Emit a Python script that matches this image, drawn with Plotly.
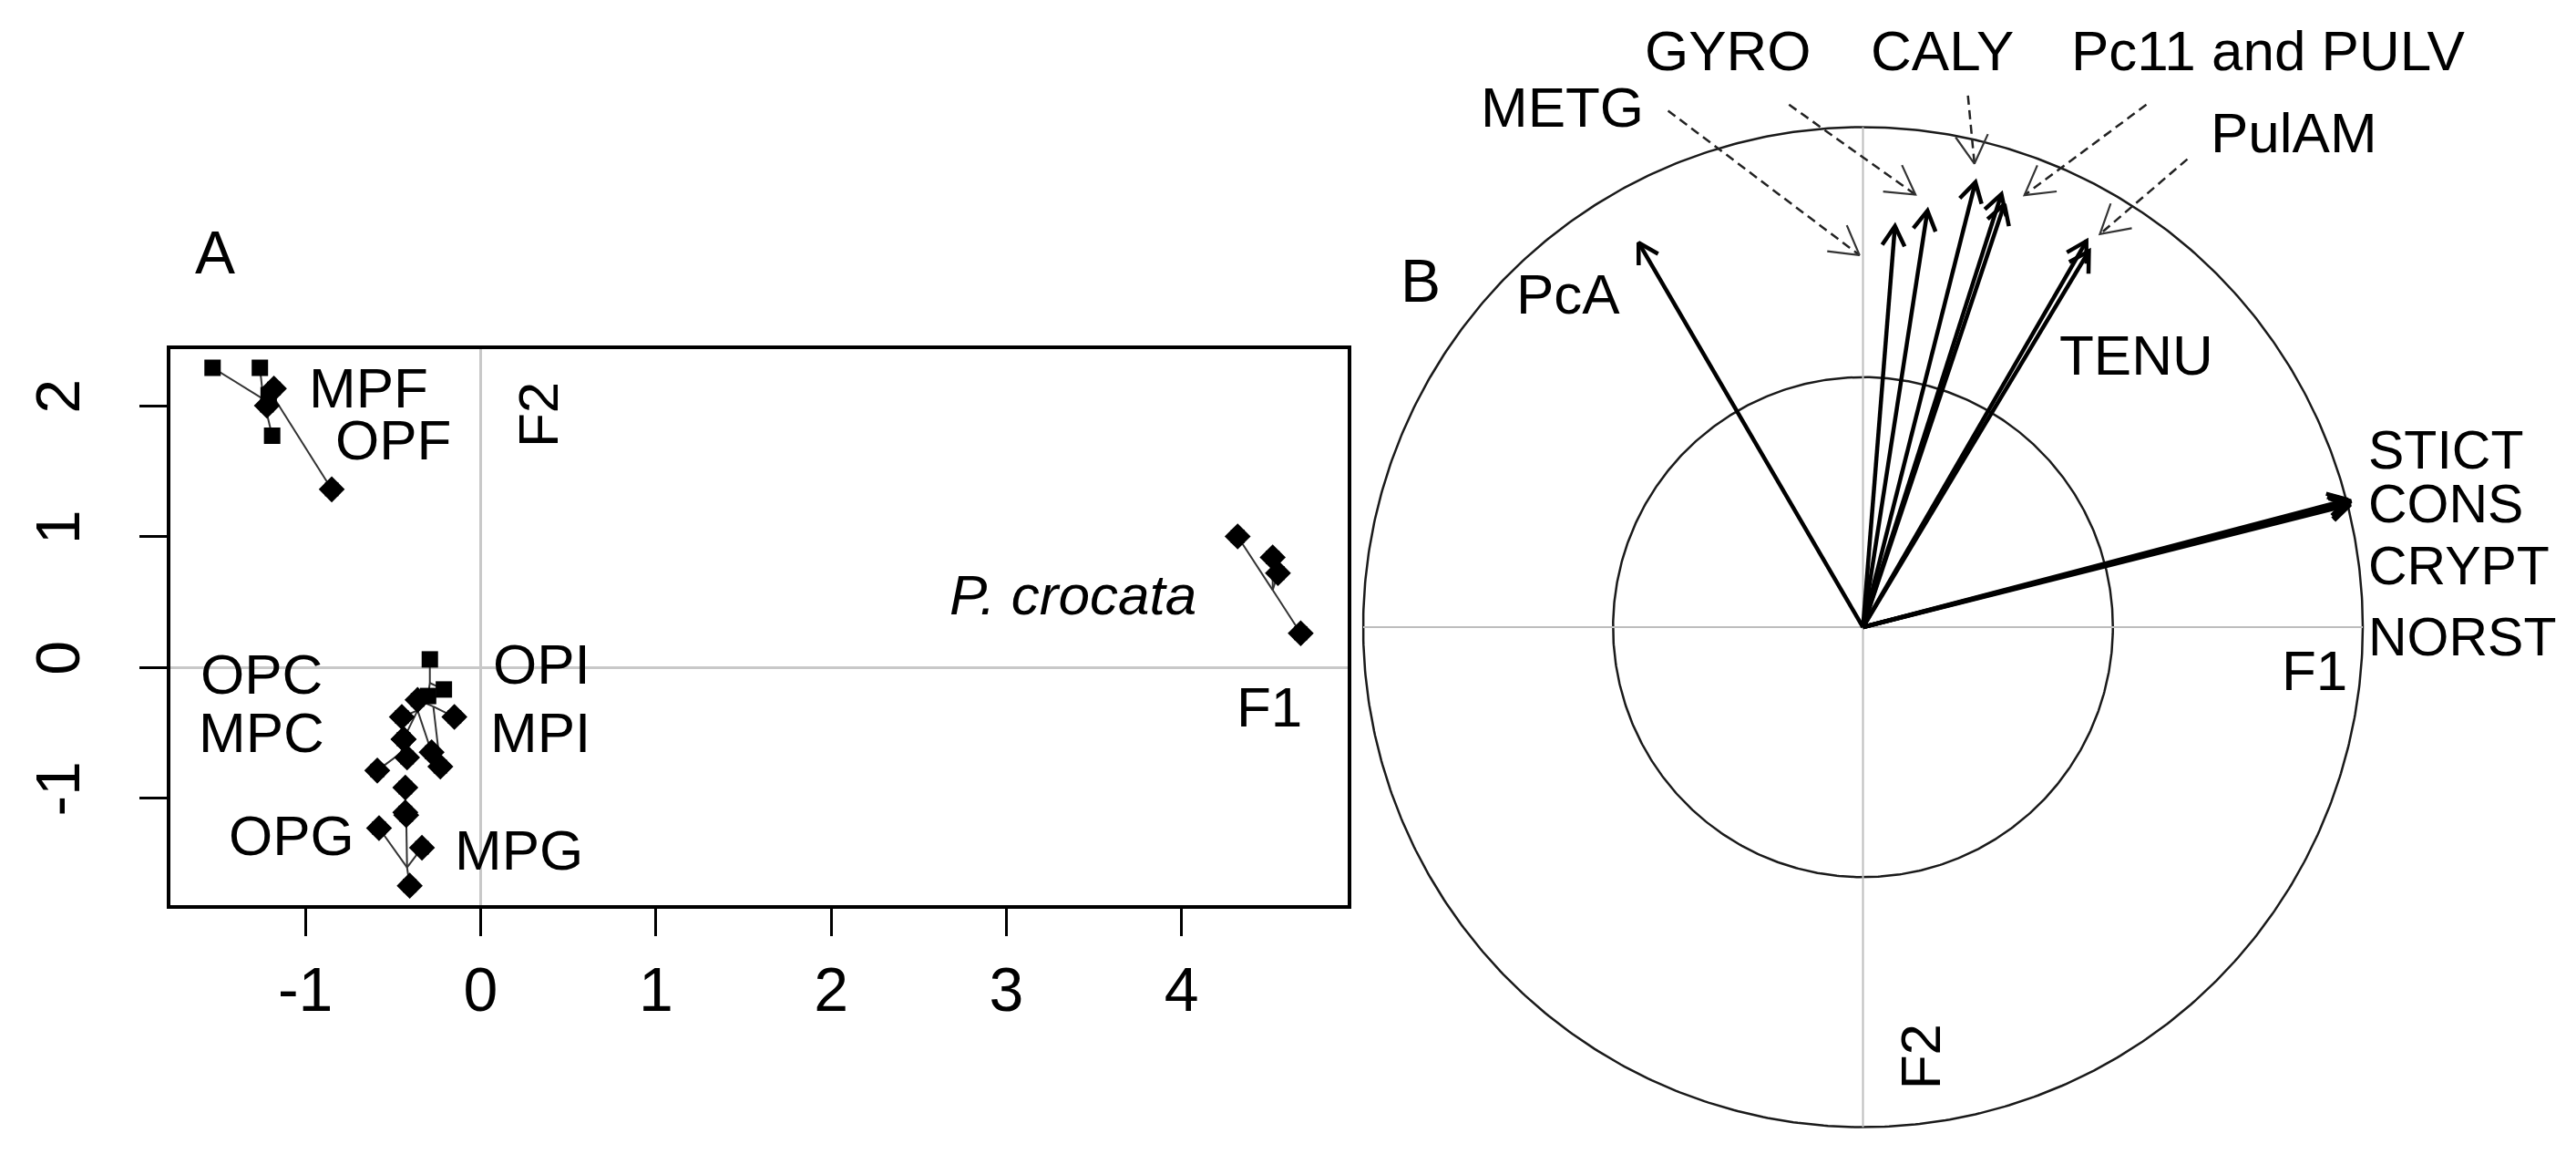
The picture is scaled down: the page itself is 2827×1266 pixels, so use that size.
import numpy as np
import plotly.graph_objects as go

# ---------------- Panel A : factorial map of samples ----------------
group_names = ["MPF", "OPF", "OPI", "MPI", "OPC", "MPC", "OPG", "MPG", "P. crocata"]
group_cx = [-1.24, -1.17, -0.29, -0.27, -0.36, -0.42, -0.43, -0.42, 4.52]
group_cy = [2.05, 2.04, -0.12, -0.30, -0.33, -0.62, -1.02, -1.53, 0.59]

point_group = ["MPF", "MPF", "MPF", "MPF",
               "OPF", "OPF", "OPF",
               "OPI", "OPI", "OPI",
               "MPI", "MPI", "MPI",
               "OPC", "OPC", "OPC",
               "MPC", "MPC", "MPC",
               "OPG", "OPG",
               "MPG", "MPG", "MPG", "MPG",
               "P. crocata", "P. crocata", "P. crocata", "P. crocata"]
point_x = [-1.53, -1.26, -1.21, -1.19,
           -1.18, -1.22, -0.85,
           -0.29, -0.21, -0.30,
           -0.15, -0.23, -0.36,
           -0.45, -0.44, -0.28,
           -0.42, -0.59, -0.44,
           -0.43, -0.43,
           -0.58, -0.335, -0.405, -0.425,
           4.32, 4.52, 4.55, 4.68]
point_y = [2.29, 2.29, 2.08, 1.77,
           2.13, 2.00, 1.36,
           0.06, -0.17, -0.22,
           -0.38, -0.76, -0.25,
           -0.38, -0.55, -0.65,
           -0.69, -0.79, -0.55,
           -0.92, -1.11,
           -1.23, -1.38, -1.67, -1.13,
           1.00, 0.84, 0.72, 0.26]

x_ticks = [-1, 0, 1, 2, 3, 4]
y_ticks = [-1, 0, 1, 2]

labelsA_text = ["MPF", "OPF", "OPC", "MPC", "OPG", "MPG", "OPI", "MPI", "<i>P. crocata</i>", "F1"]
labelsA_x = [-0.64, -0.50, -1.25, -1.25, -1.08, 0.22, 0.35, 0.34, 3.38, 4.50]
labelsA_y = [2.08, 1.68, -0.105, -0.557, -1.34, -1.456, -0.03, -0.557, 0.495, -0.357]
axisA_label = ("F2", 0.328, 1.927)

# ---------------- Panel B : correlation circle ----------------
circle_radii = [1.0, 0.5]
var_names = ["PcA", "METG", "GYRO", "CALY", "Pc11", "PULV", "PulAM", "TENU",
             "STICT", "CONS", "CRYPT", "NORST"]
var_u = [-0.449, 0.064, 0.129, 0.225, 0.277, 0.283, 0.447, 0.452,
         0.976, 0.972, 0.975, 0.970]
var_v = [0.769, 0.802, 0.833, 0.890, 0.866, 0.846, 0.772, 0.752,
         0.252, 0.248, 0.245, 0.255]

callout_text = ["METG", "GYRO", "CALY", "Pc11 and PULV", "PulAM"]
callout_label_u = [-0.601, -0.269, 0.158, 0.812, 0.863]
callout_label_v = [1.025, 1.138, 1.138, 1.138, 0.974]
callout_from_u = [-0.390, -0.148, 0.210, 0.567, 0.649]
callout_from_v = [1.033, 1.045, 1.063, 1.045, 0.936]
callout_to_u = [-0.007, 0.105, 0.223, 0.323, 0.474]
callout_to_v = [0.744, 0.865, 0.927, 0.864, 0.786]

labelsB_text = ["PcA", "TENU", "F1"]
labelsB_u = [-0.589, 0.547, 0.903]
labelsB_v = [0.651, 0.529, -0.102]
stack_text = ["STICT", "CONS", "CRYPT", "NORST"]
stack_u = 1.008
stack_v = [0.339, 0.231, 0.108, -0.034]
axisB_label = ("F2", 0.115, -0.860)

# ---------------- geometry helpers ----------------
W, H = 2827, 1266
FONT = "Liberation Sans"
FS = 62               # label font size
PXB = 548.5           # pixels per unit in panel B
CBX, CBY = 2036.5, 680  # pixel centre of the circle
A_left, A_right, A_top, A_bot = 178.5, 1470.5, 375, 985
A_x0px, A_y0px, A_sx, A_sy = 519.5, 724, 192.3, 143.5
YSH = 8               # small upward nudge of text boxes (caps-only text)

def arrow_head(tx, ty, fx, fy, L, ang):
    d = np.array([tx - fx, ty - fy], float)
    d /= np.linalg.norm(d)
    pts = []
    for s in (1, -1):
        c, sn = np.cos(s * ang), np.sin(s * ang)
        rx = -(d[0] * c - d[1] * sn)
        ry = -(d[0] * sn + d[1] * c)
        pts.append((tx + L * rx, ty + L * ry))
    return pts

fig = go.Figure()

# ---- Panel A star lines ----
lx, ly = [], []
for g, cx, cy in zip(group_names, group_cx, group_cy):
    for gg, x, y in zip(point_group, point_x, point_y):
        if gg == g:
            lx += [cx, x, None]
            ly += [cy, y, None]
fig.add_trace(go.Scatter(x=lx, y=ly, mode="lines", line=dict(color="#333333", width=2),
                         xaxis="x", yaxis="y", hoverinfo="skip", showlegend=False))

square_groups = {"MPF", "OPI"}
for g in group_names:
    xs = [x for gg, x in zip(point_group, point_x) if gg == g]
    ys = [y for gg, y in zip(point_group, point_y) if gg == g]
    if g in square_groups:
        fig.add_trace(go.Scatter(x=xs, y=ys, mode="markers",
                                 marker=dict(symbol="square", size=18, color="black"),
                                 xaxis="x", yaxis="y", showlegend=False, hoverinfo="skip"))
    else:
        fig.add_trace(go.Scatter(x=xs, y=ys, mode="markers",
                                 marker=dict(symbol="square", size=15, color="black"),
                                 xaxis="x", yaxis="y", showlegend=False, hoverinfo="skip"))
        fig.add_trace(go.Scatter(x=xs, y=ys, mode="markers",
                                 marker=dict(symbol="diamond", size=22, color="black"),
                                 xaxis="x", yaxis="y", showlegend=False, hoverinfo="skip"))

annotations = []
for t, x, y in zip(labelsA_text, labelsA_x, labelsA_y):
    annotations.append(dict(x=x, y=y, xref="x", yref="y", text=t, showarrow=False, yshift=YSH,
                            font=dict(size=FS, color="black", family=FONT)))
annotations.append(dict(x=axisA_label[1], y=axisA_label[2], xref="x", yref="y",
                        text=axisA_label[0], textangle=-90, showarrow=False,
                        font=dict(size=FS, color="black", family=FONT)))
annotations.append(dict(x=228 / W, y=1 - 277 / H, xref="paper", yref="paper", text="A",
                        xanchor="center", yanchor="middle", yshift=YSH,
                        showarrow=False, font=dict(size=66, color="black", family=FONT)))

# ---- Panel B ----
theta = np.linspace(0, 2 * np.pi, 721)
for r in circle_radii:
    fig.add_trace(go.Scatter(x=r * np.cos(theta), y=r * np.sin(theta), mode="lines",
                             line=dict(color="#1a1a1a", width=2.5), xaxis="x2", yaxis="y2",
                             hoverinfo="skip", showlegend=False))
R = max(circle_radii)
fig.add_trace(go.Scatter(x=[-R, R, None, 0, 0], y=[0, 0, None, -R, R], mode="lines",
                         line=dict(color="#bdbdbd", width=2), xaxis="x2", yaxis="y2",
                         hoverinfo="skip", showlegend=False))

# solid arrows
ax_, ay_ = [], []
for u, v in zip(var_u, var_v):
    ax_ += [0, u, None]
    (h1x, h1y), (h2x, h2y) = arrow_head(u, v, 0, 0, 0.045, np.radians(30))
    ax_ += [h1x, u, h2x, None]
    ay_ += [0, v, None]
    ay_ += [h1y, v, h2y, None]
fig.add_trace(go.Scatter(x=ax_, y=ay_, mode="lines", line=dict(color="black", width=4.5),
                         xaxis="x2", yaxis="y2", hoverinfo="skip", showlegend=False))

# dashed callouts
dx_, dy_, hx_, hy_ = [], [], [], []
for fu, fv, tu, tv in zip(callout_from_u, callout_from_v, callout_to_u, callout_to_v):
    dx_ += [fu, tu, None]
    dy_ += [fv, tv, None]
    (h1x, h1y), (h2x, h2y) = arrow_head(tu, tv, fu, fv, 0.065, np.radians(30))
    hx_ += [h1x, tu, h2x, None]
    hy_ += [h1y, tv, h2y, None]
fig.add_trace(go.Scatter(x=dx_, y=dy_, mode="lines",
                         line=dict(color="#222222", width=2.5, dash="10px,6px"),
                         xaxis="x2", yaxis="y2", hoverinfo="skip", showlegend=False))
fig.add_trace(go.Scatter(x=hx_, y=hy_, mode="lines", line=dict(color="#333333", width=2.2),
                         xaxis="x2", yaxis="y2", hoverinfo="skip", showlegend=False))

for t, u, v in zip(callout_text, callout_label_u, callout_label_v):
    annotations.append(dict(x=u, y=v, xref="x2", yref="y2", text=t, showarrow=False, yshift=YSH,
                            font=dict(size=FS, color="black", family=FONT)))
for t, u, v in zip(labelsB_text, labelsB_u, labelsB_v):
    annotations.append(dict(x=u, y=v, xref="x2", yref="y2", text=t, showarrow=False, yshift=YSH,
                            font=dict(size=FS, color="black", family=FONT)))
for t, v in zip(stack_text, stack_v):
    annotations.append(dict(x=stack_u, y=v, xref="x2", yref="y2", text=t, showarrow=False,
                            xanchor="left", yshift=YSH,
                            font=dict(size=59, color="black", family=FONT)))
annotations.append(dict(x=axisB_label[1], y=axisB_label[2], xref="x2", yref="y2",
                        text=axisB_label[0], textangle=-90, showarrow=False,
                        font=dict(size=FS, color="black", family=FONT)))
annotations.append(dict(x=-0.885, y=0.678, xref="x2", yref="y2", text="B", showarrow=False,
                        yshift=YSH, font=dict(size=66, color="black", family=FONT)))

# ---------------- layout ----------------
xa_range = [(A_left - A_x0px) / A_sx, (A_right - A_x0px) / A_sx]
ya_range = [(A_y0px - A_bot) / A_sy, (A_y0px - A_top) / A_sy]
xb_left_px = 1480
xb_range = [(xb_left_px - CBX) / PXB, (W - CBX) / PXB]
yb_range = [(CBY - H) / PXB, CBY / PXB]

axis_common = dict(showline=True, mirror=True, linecolor="black", linewidth=4,
                   ticks="outside", ticklen=30, tickwidth=3, tickcolor="black",
                   showgrid=False, zeroline=True, zerolinecolor="#c8c8c8", zerolinewidth=3,
                   tickfont=dict(size=68, color="black", family=FONT))

fig.update_layout(
    width=W, height=H, margin=dict(l=0, r=0, t=0, b=0),
    paper_bgcolor="white", plot_bgcolor="rgba(0,0,0,0)",
    font=dict(family=FONT, color="black"),
    showlegend=False,
    xaxis=dict(domain=[A_left / W, A_right / W], range=xa_range, anchor="y",
               tickvals=x_ticks, ticktext=[str(v) for v in x_ticks], **axis_common),
    yaxis=dict(domain=[1 - A_bot / H, 1 - A_top / H], range=ya_range, anchor="x",
               tickvals=y_ticks, ticktext=[str(v) for v in y_ticks], tickangle=-90,
               ticklabelstandoff=38, **axis_common),
    xaxis2=dict(domain=[xb_left_px / W, 1.0], range=xb_range, anchor="y2", visible=False),
    yaxis2=dict(domain=[0, 1], range=yb_range, anchor="x2", visible=False),
    annotations=annotations,
)

fig.write_html("out.html")
